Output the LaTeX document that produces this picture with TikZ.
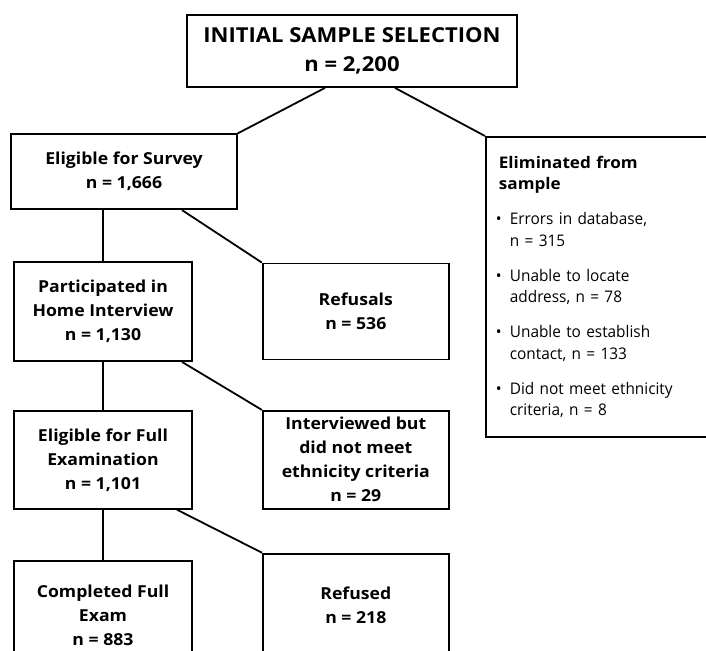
\documentclass[tikz,border=0pt]{standalone}
\usepackage{fontspec}
\setmainfont{Open Sans}[UprightFeatures={FakeStretch=0.96}, BoldFeatures={FakeStretch=1.07}]
\usetikzlibrary{positioning,calc}
\tikzset{
    box/.style = {draw, line width=1.8pt, align=center, inner sep=0pt,
                  font=\bfseries\fontsize{16.5}{24}\selectfont},
    titlebox/.style = {box, font=\bfseries\fontsize{20.6}{29}\selectfont},
    listbox/.style = {draw, line width=1.8pt, align=left, text width=215pt,
                      inner xsep=13pt, inner ysep=19pt,
                      font=\fontsize{16}{21.3}\selectfont},
    link/.style = {line width=1.8pt}
}
\newcommand{\elitem}[2]{\hspace*{-3pt}\makebox[14pt][l]{\textbullet}#1\\\hspace*{11pt}#2}

\begin{document}
\begin{tikzpicture}[x=1pt,y=-1pt]
    \useasboundingbox (0,0) rectangle (706,650);
    \clip (0,0) rectangle (706,650);
        \node[titlebox, minimum width=330pt, minimum height=72pt] (init) at (352,51)
            {INITIAL SAMPLE SELECTION\\n = 2,200};
        \node[box, minimum width=178pt, minimum height=99pt] (part) at (103,311.5)
            {Participated in\\Home Interview\\n = 1,130};
        \node[box, minimum width=226pt, minimum height=75pt] (survey) [above=51pt of part, xshift=21pt]
            {Eligible for Survey\\n = 1,666};
        \node[box, minimum width=178pt, minimum height=98pt] (efull) [below=48pt of part]
            {Eligible for Full\\Examination\\n = 1,101};
        \node[box, minimum width=178pt, minimum height=110pt] (completed) [below=50pt of efull]
            {Completed Full\\Exam\\n = 883};
        \node[box, minimum width=186pt, minimum height=96pt] (refusals) [right=69pt of part]
            {Refusals\\n = 536};
        \node[box, minimum width=186pt, minimum height=98pt] (interv) [right=69pt of efull]
            {Interviewed but\\did not meet\\ethnicity criteria\\n = 29};
        \node[box, minimum width=186pt, minimum height=104pt] (refused)
            [right=69pt of completed.north east, anchor=north west, yshift=7pt]
            {Refused\\n = 218};
        \node[listbox, anchor=north west] (elim) at (485,136)
            {\textbf{Eliminated from}\\\textbf{sample}\\[14pt]
             \elitem{Errors in database,}{n = 315}\\[14pt]
             \elitem{Unable to locate}{address, n = 78}\\[14pt]
             \elitem{Unable to establish}{contact, n = 133}\\[14pt]
             \elitem{Did not meet ethnicity}{criteria, n = 8}};
        \draw[link] ([xshift=-27pt]init.south) -- (survey.north east);
        \draw[link] ([xshift=43pt]init.south) -- (elim.north west);
        \draw[link] (survey.south -| part.north) -- (part.north);
        \draw[link] ([xshift=58pt]survey.south) -- (refusals.north west);
        \draw[link] (part.south) -- (efull.north);
        \draw[link] ([xshift=79pt]part.south) -- (interv.north west);
        \draw[link] (efull.south) -- (completed.north);
        \draw[link] ([xshift=74pt]efull.south) -- (refused.north west);
    \end{tikzpicture}
\end{document}
